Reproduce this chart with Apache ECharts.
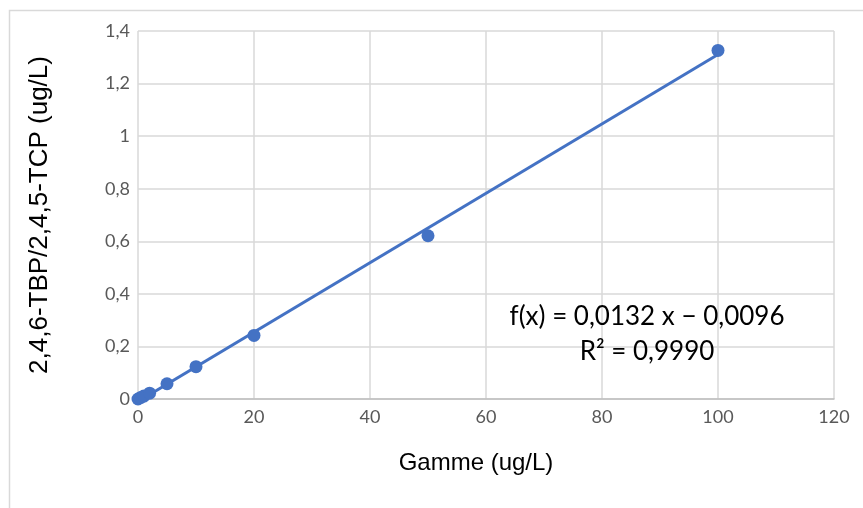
<!DOCTYPE html>
<html lang="fr">
<head>
    <meta charset="UTF-8">
    <title>Gamme</title>
    <script src="https://cdn.jsdelivr.net/npm/echarts@6/dist/echarts.min.js"></script>
    <style>
    html, body { margin: 0; padding: 0; background: #fff; }
    #chart { width: 863px; height: 508px; }
    </style>
</head>
<body>
    <div id="chart"></div>
    <script>
        // points de la gamme
        var gammeX = [0, 0.5, 1, 2, 5, 10, 20, 50, 100];
        var ratioY = [0, 0.006, 0.011, 0.022, 0.058, 0.123, 0.242, 0.621, 1.326];
        // courbe de tendance (extrémités)
        var trendX = [0, 100];
        var trendY = [-0.0096, 1.3104];
        var equation = 'f(x) = 0,0132 x \u2212 0,0096';
        var r2 = 'R\u00b2 = 0,9990';

        var font = 'Lato, "Open Sans", sans-serif';
        var sans = '"Liberation Sans", Arial, sans-serif';
        var comma = function (v) { return String(v).replace('.', ','); };

        var myChart = echarts.init(document.getElementById('chart'));
        var option = {
            animation: false,
            grid: { left: 138, top: 31, right: 29, bottom: 109 },
            xAxis: {
                type: 'value', min: 0, max: 120, interval: 20,
                name: 'Gamme (ug/L)', nameLocation: 'middle', nameGap: 52,
                nameTextStyle: { color: '#000', fontSize: 24, fontFamily: sans, padding: [0, 20, 0, 0] },
                axisLine: { show: true, lineStyle: { color: '#bfbfbf', width: 1.5 } },
                axisTick: { show: false },
                axisLabel: { color: '#595959', fontSize: 18, fontFamily: font, margin: 9 },
                splitLine: { show: true, lineStyle: { color: '#d9d9d9', width: 1.5 } }
            },
            yAxis: {
                type: 'value', min: 0, max: 1.4, interval: 0.2,
                name: '2,4,6-TBP/2,4,5-TCP (ug/L)', nameLocation: 'middle', nameGap: 85,
                nameTextStyle: { color: '#000', fontSize: 26, fontFamily: sans },
                axisLine: { show: false },
                axisTick: { show: false },
                axisLabel: { color: '#595959', fontSize: 18, fontFamily: font, margin: 8,
                    formatter: function (v) { return comma(+v.toFixed(1)); } },
                splitLine: { show: true, lineStyle: { color: '#d9d9d9', width: 1.5 } }
            },
            series: [
                {
                    type: 'line',
                    data: trendX.map(function (x, i) { return [x, trendY[i]]; }),
                    showSymbol: false,
                    lineStyle: { color: '#4472c4', width: 3 },
                    z: 2
                },
                {
                    type: 'scatter',
                    data: gammeX.map(function (x, i) { return [x, ratioY[i]]; }),
                    symbolSize: 13,
                    itemStyle: { color: '#4472c4', opacity: 1 },
                    clip: false,
                    z: 3
                }
            ],
            graphic: [
                { type: 'rect', left: 7, top: 8, shape: { width: 880, height: 520 }, z: 0,
                  style: { fill: 'none', stroke: '#d9d9d9', lineWidth: 1.5 }, silent: true },
                { type: 'text', x: 647, y: 317, z: 100,
                  style: { text: equation, fill: '#000', font: '26px ' + font, align: 'center', verticalAlign: 'middle' } },
                { type: 'text', x: 647, y: 352, z: 100,
                  style: { text: r2, fill: '#000', font: '26px ' + font, align: 'center', verticalAlign: 'middle' } }
            ]
        };
        myChart.setOption(option);
    </script>
</body>
</html>
